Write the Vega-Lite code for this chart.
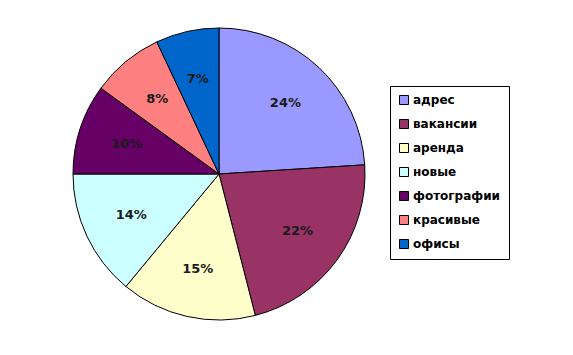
{
  "$schema": "https://vega.github.io/schema/vega-lite/v6.json",
  "width": 438,
  "height": 348,
  "padding": {"left": 0, "top": 0, "right": 135, "bottom": 7},
  "autosize": "none",
  "background": "white",
  "view": {"stroke": null},
  "data": {
    "values": [
      {"i": 1, "cat": "адрес", "v": 24, "label": "24%"},
      {"i": 2, "cat": "вакансии", "v": 22, "label": "22%"},
      {"i": 3, "cat": "аренда", "v": 15, "label": "15%"},
      {"i": 4, "cat": "новые", "v": 14, "label": "14%"},
      {"i": 5, "cat": "фотографии", "v": 10, "label": "10%"},
      {"i": 6, "cat": "красивые", "v": 8, "label": "8%"},
      {"i": 7, "cat": "офисы", "v": 7, "label": "7%"}
    ]
  },
  "encoding": {
    "theta": {"field": "v", "type": "quantitative", "stack": true},
    "order": {"field": "i", "type": "quantitative"}
  },
  "layer": [
    {
      "mark": {"type": "arc", "outerRadius": 146, "stroke": "black", "strokeWidth": 1},
      "encoding": {
        "color": {
          "field": "cat",
          "type": "nominal",
          "scale": {
            "domain": ["адрес", "вакансии", "аренда", "новые", "фотографии", "красивые", "офисы"],
            "range": ["#9999FF", "#993366", "#FFFFCC", "#CCFFFF", "#660066", "#FF8080", "#0066CC"]
          },
          "legend": {
            "title": null,
            "orient": "none",
            "legendX": 390,
            "legendY": 86,
            "symbolType": "square",
            "symbolSize": 81,
            "symbolStrokeColor": "black",
            "symbolStrokeWidth": 1,
            "symbolOpacity": 1,
            "labelFont": "DejaVu Sans",
            "labelFontWeight": "bold",
            "labelFontSize": 12,
            "labelColor": "black",
            "labelOffset": 3,
            "labelLimit": 200,
            "rowPadding": 10,
            "strokeColor": "black",
            "padding": 8,
            "fillColor": "white"
          }
        }
      }
    },
    {
      "mark": {"type": "text", "radius": 97, "font": "DejaVu Sans", "fontWeight": "bold", "fontSize": 13, "color": "#1a1a1a"},
      "encoding": {
        "text": {"field": "label", "type": "nominal"},
        "detail": {"field": "cat"}
      }
    }
  ]
}
